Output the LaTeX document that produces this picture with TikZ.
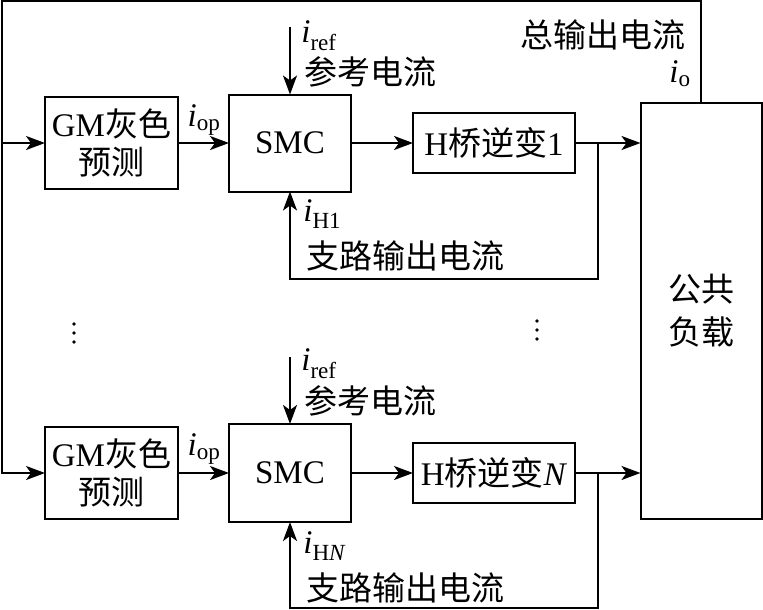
\documentclass[tikz,border=0pt]{standalone}
\usepackage{fontspec}
\setmainfont{Liberation Serif}
\newfontfamily\cjk{Noto Sans CJK SC}
\usetikzlibrary{arrows.meta,positioning}
\newcommand{\cur}[1]{\textit{i}\textsubscript{#1}}

\begin{document}
\begin{tikzpicture}[x=1pt,y=-1pt,line width=2pt,
    every node/.style={font=\fontsize{33}{38}\selectfont},
    box/.style={draw,line width=2pt,inner sep=0pt,outer sep=0pt,align=center},
    arw/.style={-{Stealth[length=19pt,width=14pt,inset=5pt]}}]

    \useasboundingbox (0,0) rectangle (763,610);

    % blocks of branch 1
    \node[box,minimum width=133pt,minimum height=92pt] (gm1) at (111.5,143) {GM{\cjk 灰色}\\{\cjk 预测}};
    \node[box,minimum width=122pt,minimum height=97pt] (smc1) at (290,143) {SMC};
    \node[box,minimum width=162pt,minimum height=60pt] (h1) at (494,143) {H{\cjk 桥逆变}1};

    % blocks of branch N
    \node[box,minimum width=133pt,minimum height=92pt] (gm2) at (111.5,473) {GM{\cjk 灰色}\\{\cjk 预测}};
    \node[box,minimum width=122pt,minimum height=98pt] (smc2) at (290,473) {SMC};
    \node[box,minimum width=162pt,minimum height=60pt] (h2) at (494,473) {H{\cjk 桥逆变}\textit{N}};

    % common load
    \node[box,minimum width=121pt,minimum height=416pt,font=\fontsize{33}{43}\selectfont] (load) at (701,311) {{\cjk 公共}\\{\cjk 负载}};

    % labels
    \node (iop1) at (204,120) {\cur{op}};
    \node[anchor=west] (iref1) at (297,36) {\cur{ref}};
    \node[anchor=west] (ref1) at (300,72) {\cjk 参考电流};
    \node[anchor=west] (ih1) at (299,214) {\cur{H1}};
    \node[anchor=west] (br1) at (302,256) {\cjk 支路输出电流};
    \node[anchor=east] (tot) at (690,35) {\cjk 总输出电流};
    \node[anchor=east] (io) at (695,74) {\cur{o}};

    \node (iop2) at (204,449) {\cur{op}};
    \node[anchor=west] (iref2) at (297,364) {\cur{ref}};
    \node[anchor=west] (ref2) at (300,401) {\cjk 参考电流};
    \node[anchor=west] (ih2) at (299,546) {\textit{i}\textsubscript{H\textit{N}}};
    \node[anchor=west] (br2) at (302,588) {\cjk 支路输出电流};

    % vertical dots between the branches
    \foreach \y in {324,333,342} {
      \fill (74,\y) circle (1.8);
      \fill (537,\y-3) circle (1.8);
    }

    % helper points
    \coordinate (tl) at (1.5,1.5);
    \coordinate (tr) at (701,1.5);
    \coordinate (r1) at (290,27);
    \coordinate (r2) at (290,357);
    \coordinate (b1) at (598,143);
    \coordinate (b2) at (598,473);
    \coordinate (f1) at (290,279);
    \coordinate (f2) at (290,608);

    % total output current fed back
    \draw[arw] (load.north) -- (tr) -- (tl) |- (gm2.west);
    \draw[arw] (tl |- gm1.west) -- (gm1.west);

    % branch 1
    \draw[arw] (gm1) -- (smc1);
    \draw[arw] (smc1) -- (h1);
    \draw[arw] (h1.east) -- (h1.east -| load.west);
    \draw[arw] (r1) -- (smc1.north);
    \draw[arw] (b1) |- (f1) -- (smc1.south);

    % branch N
    \draw[arw] (gm2) -- (smc2);
    \draw[arw] (smc2) -- (h2);
    \draw[arw] (h2.east) -- (h2.east -| load.west);
    \draw[arw] (r2) -- (smc2.north);
    \draw[arw] (b2) |- (f2) -- (smc2.south);

\end{tikzpicture}
\end{document}
